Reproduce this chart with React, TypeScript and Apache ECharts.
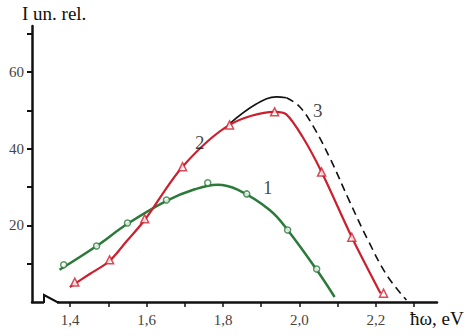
import React, { useEffect, useRef } from "react";
import * as echarts from "echarts";

// Curve 1 (green, circles): smooth curve and its markers
const curve1Line: [number, number][] = [
  [1.372, 8.4], [1.469, 14.6], [1.55, 20.4], [1.652, 26.4],
  [1.726, 29.4], [1.785, 30.6], [1.838, 29.3],
  [1.922, 24.0], [1.969, 18.8], [2.045, 8.4], [2.092, 1.3],
];
const curve1Markers: [number, number][] = [
  [1.383, 9.7], [1.469, 14.6], [1.55, 20.6], [1.652, 26.6], [1.76, 31.1],
  [1.862, 28.2], [1.969, 18.8], [2.045, 8.6],
];

// Curve 2 (red, triangles)
const curve2Line: [number, number][] = [
  [1.399, 3.9], [1.451, 7.3], [1.503, 10.7], [1.548, 15.9],
  [1.595, 21.4], [1.694, 35.3], [1.817, 46.2],
  [1.935, 49.6], [1.965, 49.0], [2.008, 43.1],
  [2.058, 33.9], [2.137, 16.9], [2.212, 2.3],
];
const curve2Markers: [number, number][] = [
  [1.412, 5.2], [1.503, 11.0], [1.595, 21.7], [1.694, 35.3], [1.817, 46.2],
  [1.935, 49.6], [2.058, 33.9], [2.137, 16.9], [2.22, 2.3],
];

// Curve 3 (black): solid part and dashed part
const curve3Solid: [number, number][] = [
  [1.817, 46.5], [1.888, 51.7], [1.94, 53.5], [1.966, 53.3],
];
const curve3Dashed: [number, number][] = [
  [1.966, 53.3], [2.0, 51.0], [2.035, 46.0], [2.08, 37.5],
  [2.13, 26.5], [2.18, 16.0], [2.23, 6.8], [2.28, 0.5],
];

// Curve number labels
const curveLabels: [number, number, string][] = [
  [1.917, 29.8, "1"],
  [1.739, 41.5, "2"],
  [2.048, 49.9, "3"],
];

const xTicks = [1.4, 1.5, 1.6, 1.7, 1.8, 1.9, 2.0, 2.1, 2.2, 2.3];
const xTickLabels = [1.4, 1.6, 1.8, 2.0, 2.2];
const yTicks = [10, 20, 30, 40, 50, 60, 70];
const yTickLabels = [20, 40, 60];

const GREEN = "#2b7a3a";
const RED = "#cc1f2e";
const BLACK = "#111111";
const FONT = "'Liberation Serif', 'DejaVu Serif', serif";

export default function App() {
  const ref = useRef<HTMLDivElement>(null);
  useEffect(() => {
    if (!ref.current) return;
    document.body.style.margin = "0";
    const chart = echarts.init(ref.current, null, { renderer: "svg" });
    chart.setOption({
      animation: false,
      backgroundColor: "#ffffff",
      grid: { left: 32, right: 35, top: 26, bottom: 34 },
      xAxis: {
        type: "value",
        min: 1.3,
        max: 2.36,
        splitLine: { show: false },
        axisLine: { show: true, lineStyle: { color: BLACK, width: 2.5 } },
        axisTick: {
          show: true,
          customValues: xTicks,
          length: 5,
          lineStyle: { color: BLACK, width: 1.5 },
        },
        axisLabel: {
          customValues: xTickLabels,
          formatter: (v: number) => v.toFixed(1).replace(".", ","),
          fontFamily: FONT,
          fontSize: 15,
          color: "#444",
          margin: 10,
        },
      },
      yAxis: {
        type: "value",
        min: 0,
        max: 72,
        splitLine: { show: false },
        axisLine: { show: true, lineStyle: { color: BLACK, width: 2.5 } },
        axisTick: {
          show: true,
          customValues: yTicks,
          length: 5,
          lineStyle: { color: BLACK, width: 2 },
        },
        axisLabel: {
          customValues: yTickLabels,
          fontFamily: FONT,
          fontSize: 15,
          color: "#444",
          margin: 8,
        },
      },
      graphic: [
        {
          type: "rect",
          z: 100,
          shape: { x: 44, y: 299, width: 13, height: 5 },
          style: { fill: "#ffffff" },
        },
        {
          type: "polyline",
          z: 101,
          shape: { points: [[43, 302], [44, 302], [44, 295], [57, 302], [59, 302]] },
          style: { stroke: BLACK, lineWidth: 2, fill: "none" },
        },
        {
          type: "text",
          z: 101,
          x: 22,
          y: 4,
          style: { text: "I un. rel.", fontFamily: FONT, fontSize: 19, fill: BLACK },
        },
        {
          type: "text",
          z: 101,
          x: 410,
          y: 309,
          style: { text: "ħω, eV", fontFamily: FONT, fontSize: 19, fill: BLACK },
        },
      ],
      series: [
        {
          type: "line",
          data: curve1Line,
          smooth: 0.4,
          symbol: "none",
          lineStyle: { color: GREEN, width: 2.5 },
          z: 2,
        },
        {
          type: "scatter",
          data: curve1Markers,
          symbol: "circle",
          symbolSize: 6,
          itemStyle: { color: "#ffffff", borderColor: GREEN, borderWidth: 1.5 },
          z: 3,
        },
        {
          type: "line",
          data: curve3Solid,
          smooth: 0.4,
          symbol: "none",
          lineStyle: { color: BLACK, width: 1.6 },
          z: 2,
        },
        {
          type: "line",
          data: curve3Dashed,
          smooth: 0.4,
          symbol: "none",
          lineStyle: { color: BLACK, width: 1.6, type: [8, 5] },
          z: 2,
        },
        {
          type: "line",
          data: curve2Line,
          smooth: 0.3,
          symbol: "none",
          lineStyle: { color: RED, width: 2.2 },
          z: 3,
        },
        {
          type: "scatter",
          data: curve2Markers,
          symbol: "triangle",
          symbolSize: 8,
          itemStyle: { color: "#ffffff", borderColor: RED, borderWidth: 1.5 },
          z: 4,
        },
        {
          type: "scatter",
          data: curveLabels,
          symbolSize: 1,
          itemStyle: { color: "rgba(0,0,0,0)" },
          label: {
            show: true,
            position: "inside",
            formatter: (p: any) => p.value[2],
            fontFamily: FONT,
            fontSize: 19,
            color: BLACK,
          },
          z: 5,
        },
      ],
    });
    return () => chart.dispose();
  }, []);
  return <div ref={ref} style={{ width: 472, height: 336 }} />;
}
